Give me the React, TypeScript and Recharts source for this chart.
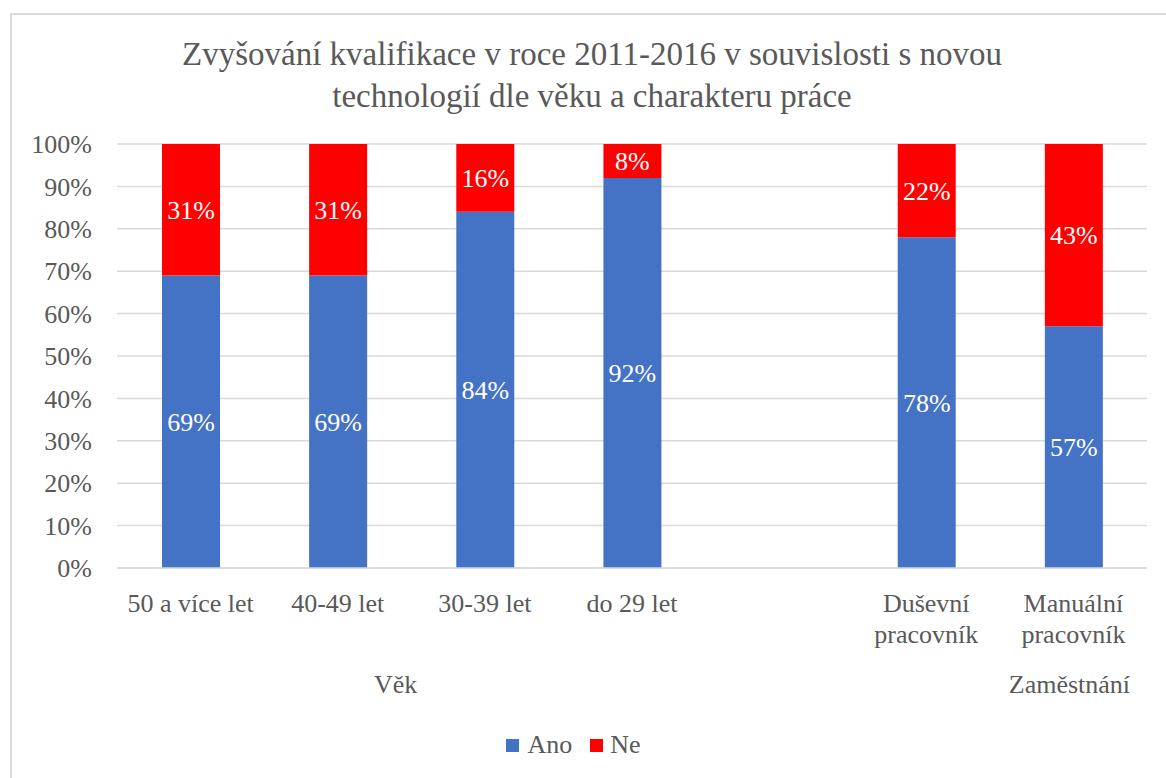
import { BarChart, Bar, XAxis, YAxis, CartesianGrid, Legend, LabelList } from 'recharts';

const categories = ['50 a více let', '40-49 let', '30-39 let', 'do 29 let', '', 'Duševní pracovník', 'Manuální pracovník'];
const groups = ['', 'Věk', '', '', '', '', 'Zaměstnání'];
const ano = [69, 69, 84, 92, null, 78, 57];
const ne = [31, 31, 16, 8, null, 22, 43];
const yTicks = [0, 10, 20, 30, 40, 50, 60, 70, 80, 90, 100];

const data = categories.map((name, i) => ({ name, group: groups[i], ano: ano[i], ne: ne[i] }));

const FONT = '"Liberation Serif", "Times New Roman", serif';
const TEXT = '#595959';

const CategoryTick = (props: any) => {
  const { x, y, payload } = props;
  const label: string = payload.value || '';
  // two-word job labels wrap onto two lines, like the original
  const lines = label.includes('pracovník') ? label.split(' ') : [label];
  return (
    <text x={x} y={y} textAnchor="middle" fill={TEXT} fontSize={26} fontFamily={FONT}>
      {lines.map((l, i) => (
        <tspan key={i} x={x} dy={i === 0 ? 44 : 31}>{l}</tspan>
      ))}
    </text>
  );
};

const GroupTick = (props: any) => {
  const { x, y, payload } = props;
  if (!payload.value) return null;
  const shift = payload.value === 'Věk' ? 58 : -4;
  return (
    <text x={x + shift} y={y + 25} textAnchor="middle" fill={TEXT} fontSize={26} fontFamily={FONT}>
      {payload.value}
    </text>
  );
};

const LegendContent = () => (
  <div style={{ height: 66, display: 'flex', justifyContent: 'center', alignItems: 'center', fontFamily: FONT, fontSize: 26, color: TEXT }}>
    <span style={{ display: 'inline-block', width: 13, height: 13, background: '#4472C4', marginRight: 8 }} />
    <span style={{ marginRight: 18 }}>Ano</span>
    <span style={{ display: 'inline-block', width: 13, height: 13, background: '#FF0000', marginRight: 7 }} />
    <span>Ne</span>
  </div>
);

const pct = (v: any) => (v === null || v === undefined ? '' : `${v}%`);

const App = () => {
  return (
    <div style={{ position: 'fixed', left: 0, top: 0, width: 1166, height: 778, overflow: 'hidden', background: '#fff' }}>
      <div style={{ position: 'absolute', left: 10, top: 13, width: 1200, height: 800, border: '2px solid #d9d9d9' }} />
      <div style={{ position: 'absolute', left: 0, top: 33, width: 1184, textAlign: 'center', fontFamily: FONT, fontSize: 33, lineHeight: '42px', color: TEXT }}>
        Zvyšování kvalifikace v roce 2011-2016 v souvislosti s novou<br />technologií dle věku a charakteru práce
      </div>
      <div style={{ position: 'absolute', left: 0, top: 0 }}>
        <BarChart width={1166} height={778} data={data} margin={{ top: 144, right: 19, bottom: 0, left: 0 }} barSize={58}>
          <CartesianGrid vertical={false} stroke="#d9d9d9" strokeWidth={1.5} />
          <XAxis dataKey="name" height={100} interval={0} tick={<CategoryTick />} tickLine={false} tickSize={0} tickMargin={0} axisLine={{ stroke: '#d9d9d9', strokeWidth: 1.5 }} />
          <XAxis xAxisId="group" dataKey="group" height={44} interval={0} tick={<GroupTick />} tickLine={false} tickSize={0} tickMargin={0} axisLine={false} />
          <YAxis width={117} domain={[0, 100]} ticks={yTicks} tickFormatter={(v) => `${v}%`} axisLine={false} tickLine={false} tickSize={0} tickMargin={25} tick={{ fill: TEXT, fontSize: 26, fontFamily: FONT }} />
          <Legend verticalAlign="bottom" content={<LegendContent />} />
          <Bar dataKey="ano" stackId="a" fill="#4472C4" name="Ano" isAnimationActive={false}>
            <LabelList dataKey="ano" position="center" formatter={pct} fill="#fff" fontSize={26} fontFamily={FONT} />
          </Bar>
          <Bar dataKey="ne" stackId="a" fill="#FF0000" name="Ne" isAnimationActive={false}>
            <LabelList dataKey="ne" position="center" formatter={pct} fill="#fff" fontSize={26} fontFamily={FONT} />
          </Bar>
        </BarChart>
      </div>
    </div>
  );
};

export default App;
